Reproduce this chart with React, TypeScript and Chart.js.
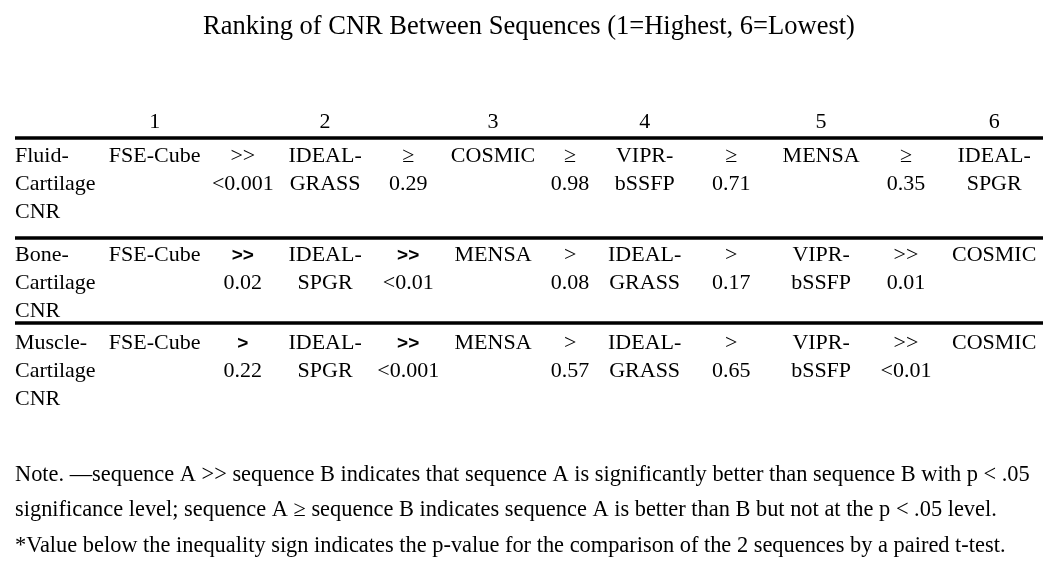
import React, { useEffect, useRef } from "react";
import { Chart, registerables } from "chart.js";

Chart.register(...registerables);

// ---------- data ----------
const titleText = "Ranking of CNR Between Sequences (1=Highest, 6=Lowest)";
const rankLabels = ["1", "2", "3", "4", "5", "6"];

const rowLabels = [
  ["Fluid-", "Cartilage", "CNR"],
  ["Bone-", "Cartilage", "CNR"],
  ["Muscle-", "Cartilage", "CNR"],
];

const fluidSequences = [["FSE-Cube"], ["IDEAL-", "GRASS"], ["COSMIC"], ["VIPR-", "bSSFP"], ["MENSA"], ["IDEAL-", "SPGR"]];
const fluidSigns = [">>", "≥", "≥", "≥", "≥"];
const fluidPValues = ["<0.001", "0.29", "0.98", "0.71", "0.35"];

const boneSequences = [["FSE-Cube"], ["IDEAL-", "SPGR"], ["MENSA"], ["IDEAL-", "GRASS"], ["VIPR-", "bSSFP"], ["COSMIC"]];
const boneSigns = [">>", ">>", ">", ">", ">>"];
const bonePValues = ["0.02", "<0.01", "0.08", "0.17", "0.01"];

const muscleSequences = [["FSE-Cube"], ["IDEAL-", "SPGR"], ["MENSA"], ["IDEAL-", "GRASS"], ["VIPR-", "bSSFP"], ["COSMIC"]];
const muscleSigns = [">", ">>", ">", ">", ">>"];
const musclePValues = ["0.22", "<0.001", "0.57", "0.65", "<0.01"];

const noteLines = [
  "Note. \u2014sequence A >> sequence B indicates that sequence A is significantly better than sequence B with p < .05",
  "significance level; sequence A \u2265 sequence B indicates sequence A is better than B but not at the p < .05 level.",
  "*Value below the inequality sign indicates the p-value for the comparison of the 2 sequences by a paired t-test.",
];

// ---------- layout (column / line units on the hidden scales) ----------
const COL_X = [0, 1.63, 2.66, 3.62, 4.59, 5.58, 6.48, 7.35, 8.36, 9.41, 10.4, 11.43];
const HEADER_Y = 1.0;
const RULE_Y = [1.36, 4.93, 7.96];
const ROW_FIRST_Y = [2.21, 5.75, 8.88];
const NOTE_Y = [13.6, 14.87, 16.14];
const BOLD_SIGN_CELLS = ["1-0", "1-1", "2-0", "2-1"];

const SERIF = "'Liberation Serif', 'Times New Roman', serif";

const rows = [
  { labels: rowLabels[0], seqs: fluidSequences, signs: fluidSigns, ps: fluidPValues },
  { labels: rowLabels[1], seqs: boneSequences, signs: boneSigns, ps: bonePValues },
  { labels: rowLabels[2], seqs: muscleSequences, signs: muscleSigns, ps: musclePValues },
];

const tablePlugin = {
  id: "tablePlugin",
  afterDraw(chart: any) {
    const ctx = chart.ctx;
    const xs = chart.scales.x;
    const ys = chart.scales.y;
    const X = (v: number) => xs.getPixelForValue(v);
    const Y = (v: number) => ys.getPixelForValue(v);
    ctx.save();
    ctx.fillStyle = "#000";
    ctx.textBaseline = "alphabetic";

    // header ranks
    ctx.font = `22px ${SERIF}`;
    ctx.textAlign = "center";
    rankLabels.forEach((r, i) => ctx.fillText(r, X(COL_X[1 + i * 2]), Y(HEADER_Y)));

    // rules
    ctx.strokeStyle = "#000";
    ctx.lineWidth = 3.5;
    RULE_Y.forEach((ry) => {
      ctx.beginPath();
      ctx.moveTo(chart.chartArea.left, Y(ry));
      ctx.lineTo(chart.chartArea.right, Y(ry));
      ctx.stroke();
    });

    rows.forEach((row, ri) => {
      const y0 = ROW_FIRST_Y[ri];
      ctx.font = `22px ${SERIF}`;
      ctx.textAlign = "left";
      row.labels.forEach((t, li) => ctx.fillText(t, X(COL_X[0]), Y(y0 + li)));
      ctx.textAlign = "center";
      row.seqs.forEach((lines, si) => {
        lines.forEach((t, li) => ctx.fillText(t, X(COL_X[1 + si * 2]), Y(y0 + li)));
      });
      row.signs.forEach((s, si) => {
        const bold = BOLD_SIGN_CELLS.includes(`${ri}-${si}`);
        ctx.font = bold ? `bold 19px 'Liberation Sans', Arial, sans-serif` : `22px ${SERIF}`;
        ctx.fillText(s, X(COL_X[2 + si * 2]), Y(y0));
        ctx.font = `22px ${SERIF}`;
        ctx.fillText(row.ps[si], X(COL_X[2 + si * 2]), Y(y0 + 1));
      });
    });

    // notes
    ctx.font = `22.4px ${SERIF}`;
    ctx.textAlign = "left";
    noteLines.forEach((t, i) => ctx.fillText(t, X(COL_X[0]), Y(NOTE_Y[i])));
    ctx.restore();
  },
};

export default function App() {
  const ref = useRef<HTMLCanvasElement | null>(null);
  useEffect(() => {
    document.body.style.margin = "0";
    const canvas = ref.current;
    if (!canvas) return;
    const chart = new Chart(canvas, {
      type: "scatter",
      data: { datasets: [{ data: [], pointRadius: 0 }] },
      options: {
        animation: false,
        responsive: false,
        devicePixelRatio: 1,
        layout: { padding: { left: 15, right: 7, top: 0, bottom: 0 } },
        plugins: {
          legend: { display: false },
          tooltip: { enabled: false },
          title: {
            display: true,
            text: titleText,
            color: "#000",
            font: { family: SERIF, size: 26.5, weight: "normal", lineHeight: 1.2 },
            padding: { top: 11.5, bottom: 56.7 },
          },
        },
        scales: {
          x: { type: "linear", min: 0, max: 12, display: false },
          y: { type: "linear", min: 0, max: 467 / 28, reverse: true, display: false },
        },
      },
      plugins: [tablePlugin],
    });
    return () => chart.destroy();
  }, []);
  return (
    <div style={{ width: 1050, height: 567, background: "#fff" }}>
      <canvas ref={ref} width={1050} height={567} style={{ display: "block" }} />
    </div>
  );
}
